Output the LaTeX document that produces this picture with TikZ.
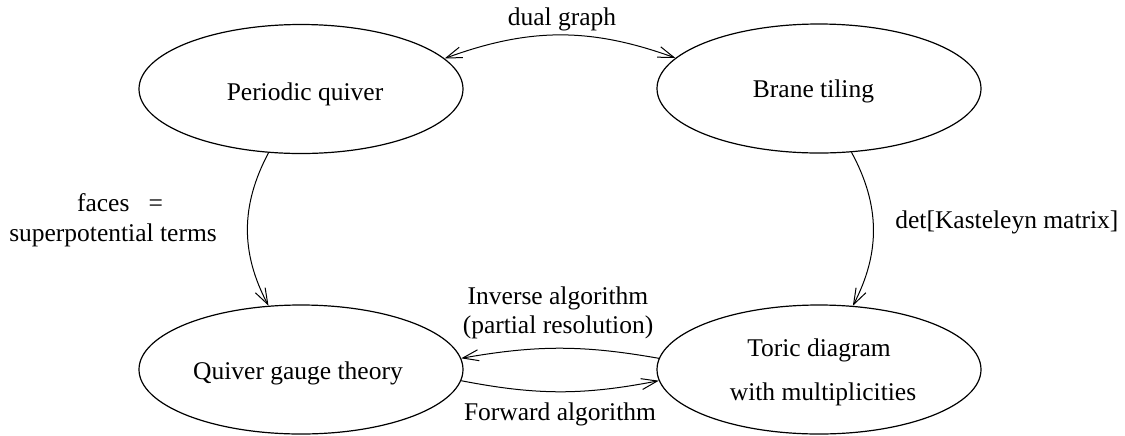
\documentclass[tikz,border=0pt]{standalone}
\usepackage{fontspec}
\setmainfont{Liberation Serif}
\usetikzlibrary{arrows.meta,shapes.geometric}
% #1 = twice the horizontal shift, #2 = raise of the baseline above the node centre
\newcommand\offtext[3]{\raisebox{#2}[0pt][0pt]{\makebox[0pt]{\hspace*{#1}#3}}}
\begin{document}
\begin{tikzpicture}[x=0.5pt,y=-0.5pt,
  every node/.style={font=\fontsize{12.75}{15}\selectfont},
  stage/.style={ellipse,draw,line width=0.6pt,inner sep=0pt,
    minimum width=162pt,minimum height=64.5pt},
  conn/.style={line width=0.5pt,-{Straight Barb[length=8pt,width=5.5pt]}},
  conn2/.style={line width=0.5pt,{Straight Barb[length=8pt,width=5.5pt]}-{Straight Barb[length=8pt,width=5.5pt]}},
  lbl/.style={align=center,inner sep=0pt,anchor=base}]
\useasboundingbox (0,0) rectangle (1125,435);
\node[stage] (pq) at (301,89) {\offtext{4pt}{-5.75pt}{Periodic quiver}};
\node[stage] (bt) at (819,88.5) {\offtext{-5.5pt}{-4.25pt}{Brane tiling}};
\node[stage] (qg) at (301,369.5) {\offtext{-3pt}{-4.9pt}{Quiver gauge theory}};
\node[stage] (td) at (819,369.5) {\offtext{0pt}{6.75pt}{Toric diagram}\offtext{4pt}{-15.25pt}{with multiplicities}};
\draw[conn2] (pq.12) to[bend left=20] (bt.168);
\draw[conn] (pq.243) to[bend right=28] (qg.117);
\draw[conn] (bt.297) to[bend left=28] (td.62);
\draw[conn] (td.176) to[bend right=10] (qg.4);
\draw[conn] (qg.356) to[bend right=11] (td.184);
\node[lbl] (ldual) at (562,25) {dual graph};
\node[lbl] (lfaces) at (113,241.5) {\hspace*{7pt}faces\ \ \ =\\superpotential terms};
\node[lbl,anchor=base west] (ldet) at (895,228) {det[Kasteleyn matrix]};
\node[lbl] (linv) at (558,333) {Inverse algorithm\\[-0.5pt](partial resolution)};
\node[lbl] (lfwd) at (560,420.5) {Forward algorithm};
\end{tikzpicture}
\end{document}
